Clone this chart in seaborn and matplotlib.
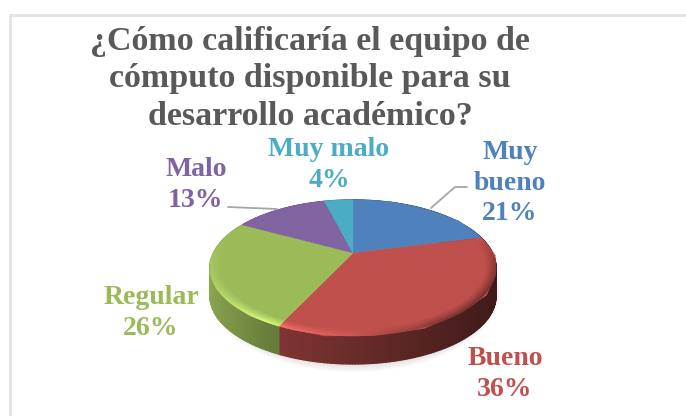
import numpy as np
import matplotlib
matplotlib.use("Agg")
import matplotlib.pyplot as plt
from matplotlib.collections import PolyCollection
from matplotlib.patches import Ellipse
import seaborn as sns

# datos
categorias = ["Muy\nbueno", "Bueno", "Regular", "Malo", "Muy malo"]
valores = [21, 36, 26, 13, 4]
colores = ["#4F81BD", "#C0504D", "#9BBB59", "#8064A2", "#4BACC6"]
titulo = "¿Cómo calificaría el equipo de\ncómputo disponible para su\ndesarrollo académico?"

sns.set_theme(style="white")
plt.rcParams['font.family'] = ['Liberation Serif', 'DejaVu Serif']
paleta = sns.color_palette(colores)

fig = plt.figure(figsize=(6.86, 4.16), dpi=100)
ax = fig.add_axes([0, 0, 1, 1])

# el pastel sale en coordenadas unitarias y luego se proyecta en perspectiva
wedges, _ = ax.pie(valores, startangle=90, counterclock=False, colors=paleta, radius=1)
ax.set_aspect('auto')
ax.set_xlim(0, 686)
ax.set_ylim(416, 0)
ax.set_axis_off()

cx, cy = 353, 253      # vertice del pastel
R0, B, P = 139.5, 64.7, 0.22
prof = 28


def proyecta(x, y):
    d = 1 + P * y
    return cx + R0 * x / d, cy - B * y / d


def sombra_pared(u):
    return np.interp(u, [-1, -0.5, 0.7, 1], [0.92, 0.68, 0.37, 0.32])


def bisel(u, y):
    h = np.interp(u, [-1, -0.5, 0, 0.5, 1], [0.08, 0.25, 0.05, -0.3, -0.5])
    return h * np.clip(0.2 - y, 0, 1) ** 0.6


def tono(c, f):
    c = np.array(c) * f
    if f > 1:
        c = np.array(c) + (f - 1) * 0.25
    return tuple(np.clip(c, 0, 1))


# sombra difusa bajo el pastel
for i in range(12):
    ax.add_patch(Ellipse((cx + 1, 289 + 3), 292 - i * 2, 160 - i * 2.2, color='#7f7f7f',
                         alpha=0.03, lw=0, zorder=1))

polis_pared, cols_pared = [], []
polis_bisel, cols_bisel = [], []
for w, c in zip(wedges, paleta):
    t1, t2 = w.theta1, w.theta2
    pts = w.get_path().to_polygons(closed_only=False)[0]
    px, py = proyecta(pts[:, 0], pts[:, 1])
    ax.fill(px, py, color=c, lw=0.3, zorder=3)
    w.remove()

    angs = np.radians(np.arange(t1, t2 + 0.01, 1.0))
    if angs[-1] < np.radians(t2):
        angs = np.append(angs, np.radians(t2))
    for a0, a1 in zip(angs[:-1], angs[1:]):
        x0, y0 = proyecta(np.cos(a0), np.sin(a0))
        x1, y1 = proyecta(np.cos(a1), np.sin(a1))
        um = (np.cos(a0) + np.cos(a1)) / 2
        ym = (np.sin(a0) + np.sin(a1)) / 2
        # pared lateral
        polis_pared.append([(x0, y0), (x1, y1), (x1, y1 + prof), (x0, y0 + prof)])
        cols_pared.append(tono(c, sombra_pared(um)))
        # bisel del borde superior
        pasos = np.linspace(1, 0.94, 5)
        for k, (r0, r1) in enumerate(zip(pasos[:-1], pasos[1:])):
            xa, ya = proyecta(r0 * np.cos(a0), r0 * np.sin(a0))
            xb, yb = proyecta(r0 * np.cos(a1), r0 * np.sin(a1))
            xc, yc = proyecta(r1 * np.cos(a1), r1 * np.sin(a1))
            xd, yd = proyecta(r1 * np.cos(a0), r1 * np.sin(a0))
            polis_bisel.append([(xa, ya), (xb, yb), (xc, yc), (xd, yd)])
            cols_bisel.append(tono(c, 1 + bisel(um, ym) * (1 - k / 4)))

ax.add_collection(PolyCollection(polis_pared, facecolors=cols_pared, edgecolors=cols_pared,
                                 linewidths=1.0, zorder=2), autolim=False)
ax.add_collection(PolyCollection(polis_bisel, facecolors=cols_bisel, edgecolors=cols_bisel,
                                 linewidths=0.4, zorder=4), autolim=False)

# lineas guia
ax.plot([431, 455, 467], [208, 187, 187], color='#a6a6a6', lw=1.3, zorder=5)
ax.plot([228, 277], [207, 209], color='#a6a6a6', lw=1.3, zorder=5)

# marco
ax.plot([686, 10, 10], [15, 15, 416], color='#e2e2e2', lw=2, zorder=0, clip_on=False)

# etiquetas
pos = [(510, 183), (505, 374), (151, 313), (196, 185), (329, 165)]
for cat, v, c, (x, y) in zip(categorias, valores, paleta, pos):
    ax.text(x, y, f"{cat}\n{v}%", color=c, ha='center', va='center', fontsize=20,
            fontweight='bold', linespacing=1.28, zorder=6)

ax.text(310, 79, titulo, color='#595959', ha='center', va='center', fontsize=24.5,
        fontweight='bold', linespacing=1.26, zorder=6)

fig.savefig("out.png", dpi=100)
